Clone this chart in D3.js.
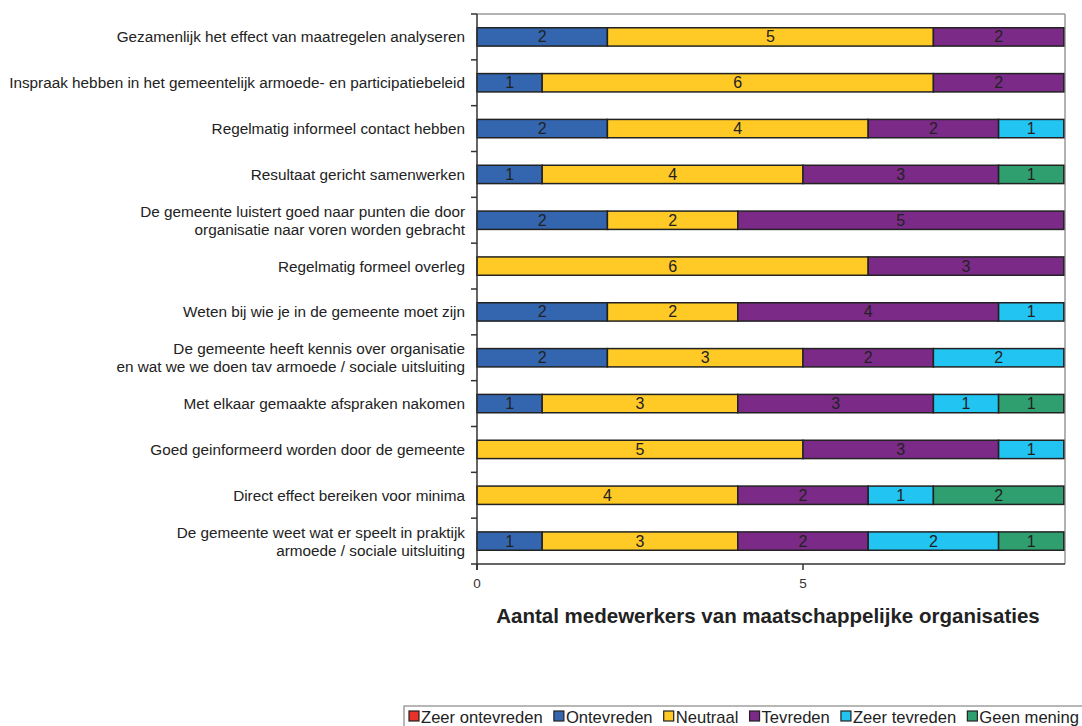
<!DOCTYPE html>
<html><head><meta charset="utf-8">
<script src="https://cdn.jsdelivr.net/npm/d3@7"></script>
<style>body{margin:0;background:#fff}svg{display:block;font-family:"Liberation Sans",Arial,sans-serif}</style>
</head><body><svg id="c" width="1082" height="726"></svg>
<script>
const categories = [
  ["Gezamenlijk het effect van maatregelen analyseren"],
  ["Inspraak hebben in het gemeentelijk armoede- en participatiebeleid"],
  ["Regelmatig informeel contact hebben"],
  ["Resultaat gericht samenwerken"],
  ["De gemeente luistert goed naar punten die door", "organisatie naar voren worden gebracht"],
  ["Regelmatig formeel overleg"],
  ["Weten bij wie je in de gemeente moet zijn"],
  ["De gemeente heeft kennis over organisatie", "en wat we we doen tav armoede / sociale uitsluiting"],
  ["Met elkaar gemaakte afspraken nakomen"],
  ["Goed geinformeerd worden door de gemeente"],
  ["Direct effect bereiken voor minima"],
  ["De gemeente weet wat er speelt in praktijk", "armoede / sociale uitsluiting"]
];
const seriesNames = ["Zeer ontevreden","Ontevreden","Neutraal","Tevreden","Zeer tevreden","Geen mening"];
const zeerOntevreden = [0,0,0,0,0,0,0,0,0,0,0,0];
const ontevreden     = [2,1,2,1,2,0,2,2,1,0,0,1];
const neutraal       = [5,6,4,4,2,6,2,3,3,5,4,3];
const tevreden       = [2,2,2,3,5,3,4,2,3,3,2,2];
const zeerTevreden   = [0,0,1,0,0,0,1,2,1,1,1,2];
const geenMening     = [0,0,0,1,0,0,0,0,1,0,2,1];
const xTicks = [0,5];
const colors = ["#E8332A","#3466B0","#FFC926","#7B2A87","#22C4F2","#2F9F6F"];

const seriesValues = [zeerOntevreden, ontevreden, neutraal, tevreden, zeerTevreden, geenMening];
const rows = categories.map((c,i)=>{const o={idx:i}; seriesNames.forEach((s,j)=>o[s]=seriesValues[j][i]); return o;});
const stack = d3.stack().keys(seriesNames)(rows);

const svg = d3.select("#c");
const L=477, R=1065, T=14, B=564;
const x = d3.scaleLinear().domain([0,9]).range([L, L+9*(803-477)/5]);
const y = d3.scaleBand().domain(d3.range(categories.length)).range([T,B]).paddingInner(0.6).paddingOuter(0.3);
const band = (B-T)/categories.length;

// frame top/right
svg.append("line").attr("x1",L).attr("x2",R).attr("y1",T).attr("y2",T).attr("stroke","#999").attr("stroke-width",1.5);
svg.append("line").attr("x1",R).attr("x2",R).attr("y1",T).attr("y2",B).attr("stroke","#999").attr("stroke-width",1.5);

// bars
const g = svg.append("g");
stack.forEach((layer,j)=>{
  layer.forEach((d,i)=>{
    const v = d[1]-d[0];
    if(v<=0) return;
    g.append("rect").attr("x",x(d[0])).attr("width",x(d[1])-x(d[0]))
      .attr("y",y(i)).attr("height",y.bandwidth())
      .attr("fill",colors[j]).attr("stroke","#222").attr("stroke-width",1.5);
    g.append("text").attr("x",(x(d[0])+x(d[1]))/2).attr("y",y(i)+y.bandwidth()/2+5.5)
      .attr("text-anchor","middle").attr("font-size",16).attr("fill","#222").text(v);
  });
});

// y axis
svg.append("line").attr("x1",L).attr("x2",L).attr("y1",T).attr("y2",B+6).attr("stroke","#333").attr("stroke-width",1.5);
d3.range(categories.length+1).forEach(k=>{
  const yy = T + k*band;
  svg.append("line").attr("x1",L-6).attr("x2",L).attr("y1",yy).attr("y2",yy).attr("stroke","#333").attr("stroke-width",1.5);
});
// x axis
svg.append("line").attr("x1",L).attr("x2",R).attr("y1",B).attr("y2",B).attr("stroke","#333").attr("stroke-width",1.5);
xTicks.forEach(t=>{
  svg.append("line").attr("x1",x(t)).attr("x2",x(t)).attr("y1",B).attr("y2",B+6).attr("stroke","#333").attr("stroke-width",1.5);
  svg.append("text").attr("x",x(t)).attr("y",B+24).attr("text-anchor","middle").attr("font-size",13.5).attr("fill","#333").text(t);
});

// category labels
categories.forEach((lines,i)=>{
  const cy = y(i)+y.bandwidth()/2;
  const n = lines.length, lh=18;
  lines.forEach((ln,k)=>{
    svg.append("text").attr("x",465).attr("y",cy + (k-(n-1)/2)*lh + 5.5)
      .attr("text-anchor","end").attr("font-size",15.3).attr("fill","#222").text(ln);
  });
});

// axis title
svg.append("text").attr("x",768).attr("y",623).attr("text-anchor","middle").attr("font-size",20.5)
  .attr("font-weight","bold").attr("fill","#222").text("Aantal medewerkers van maatschappelijke organisaties");

// legend
const lg = svg.append("g");
lg.append("rect").attr("x",404).attr("y",706).attr("width",700).attr("height",40).attr("fill","#fff").attr("stroke","#888").attr("stroke-width",1.2);
let lx = 409;
const items = seriesNames.map((s,j)=>{
  const it = lg.append("g");
  it.append("rect").attr("x",0).attr("y",711).attr("width",10).attr("height",10).attr("fill",colors[j]).attr("stroke","#222").attr("stroke-width",1.2);
  const t = it.append("text").attr("x",12).attr("y",723).attr("font-size",16.6).attr("fill","#222").text(s);
  return {it, w: 12 + t.node().getComputedTextLength()};
});
const total = d3.sum(items, d=>d.w);
const gap = (1079-409-total)/(items.length-1);
items.forEach(d=>{ d.it.attr("transform",`translate(${lx},0)`); lx += d.w + gap; });
</script></body></html>
